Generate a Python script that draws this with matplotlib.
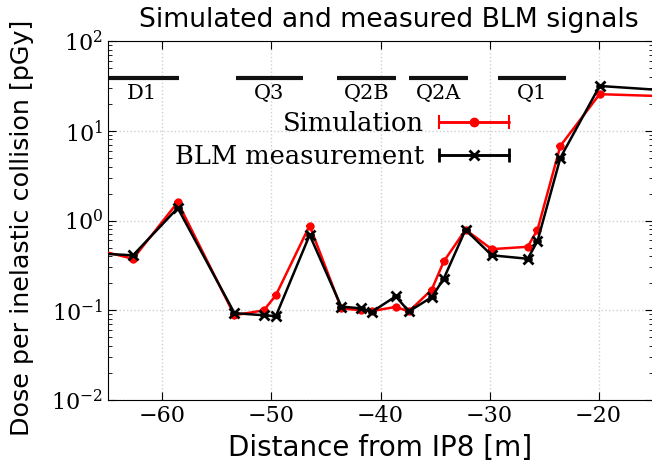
import numpy as np
import matplotlib
matplotlib.use("Agg")
import matplotlib.pyplot as plt
from matplotlib.container import ErrorbarContainer
from matplotlib.legend_handler import HandlerErrorbar

# distance from IP8 [m] of the BLMs
positions = [-66, -62.7, -58.6, -53.4, -50.7, -49.6, -46.5, -43.6, -41.8, -40.8,
             -38.6, -37.4, -35.3, -34.2, -32.2, -29.8, -26.5, -25.6, -23.5, -19.9, -14]
simulation = [0.47, 0.375, 1.6, 0.088, 0.10, 0.147, 0.88, 0.105, 0.10, 0.098,
              0.109, 0.097, 0.17, 0.35, 0.79, 0.48, 0.51, 0.79, 6.8, 25.6, 24.3]
measurement = [0.43, 0.41, 1.38, 0.093, 0.088, 0.086, 0.69, 0.11, 0.105, 0.096,
               0.143, 0.097, 0.14, 0.225, 0.79, 0.41, 0.375, 0.59, 5.0, 31.6, 28.3]

# magnet elements: name, start, end [m]
magnets = ["D1", "Q3", "Q2B", "Q2A", "Q1"]
magnet_start = [-65.3, -53.3, -44.0, -37.4, -29.2]
magnet_end = [-58.5, -47.1, -38.6, -32.0, -23.0]

plt.rcParams["font.family"] = "DejaVu Serif"
plt.rcParams["mathtext.fontset"] = "dejavusans"

fig = plt.figure(figsize=(6.52, 4.72), dpi=100)
ax = fig.add_axes([0.1656, 0.1525, 0.836, 0.7605])

zeros = np.zeros(len(positions))
ax.errorbar(positions, simulation, yerr=zeros, color="red", marker="o", ms=5,
            lw=1.8, capsize=3, elinewidth=1.5, capthick=1.5, zorder=3)
ax.errorbar(positions, measurement, yerr=zeros, color="black", marker="x", ms=7,
            mew=2, lw=1.8, capsize=3, elinewidth=1.5, capthick=1.5, zorder=4)

# dummy handles for the legend (horizontal error bars)
h1 = ax.errorbar([np.nan], [np.nan], xerr=[0], color="red", marker="o", ms=6,
                 lw=1.8, capsize=5, capthick=1.5, label="Simulation")
h2 = ax.errorbar([np.nan], [np.nan], xerr=[0], color="black", marker="x", ms=7,
                 mew=2, lw=1.8, capsize=5, capthick=1.5, label="BLM measurement")

for name, x0, x1 in zip(magnets, magnet_start, magnet_end):
    ax.plot([x0, x1], [39, 39], color="#111111", lw=3, solid_capstyle="butt", zorder=2)
    ax.text((x0 + x1) / 2, 26, name, ha="center", va="center", fontsize=15)

ax.set_yscale("log")
ax.set_xlim(-65, -15)
ax.set_ylim(1e-2, 1e2)
ax.set_xticks([-60, -50, -40, -30, -20])
ax.tick_params(which="both", direction="in", top=True, right=True, labelsize=16)
ax.tick_params(which="major", length=6)
ax.tick_params(which="minor", length=3)
ax.grid(True, which="major", color="#d0d0d0", linestyle=":", lw=1)

ax.set_xlabel("Distance from IP8 [m]", fontsize=20, family="DejaVu Sans", labelpad=5)
ax.set_ylabel("Dose per inelastic collision [pGy]", fontsize=18.3, family="DejaVu Sans")
ax.yaxis.set_label_coords(-0.136, 0.48)
ax.set_title("Simulated and measured BLM signals", fontsize=19.2, family="DejaVu Sans",
             pad=10, x=0.515)

ax.legend(handles=[h1, h2], loc="upper right", bbox_to_anchor=(0.735, 0.805),
          frameon=False, markerfirst=False, fontsize=18.5, handlelength=2.7,
          borderaxespad=0, borderpad=0, labelspacing=0.32, handletextpad=0.6,
          handler_map={ErrorbarContainer: HandlerErrorbar(xerr_size=1.35)})

fig.savefig("out.png", dpi=100)
